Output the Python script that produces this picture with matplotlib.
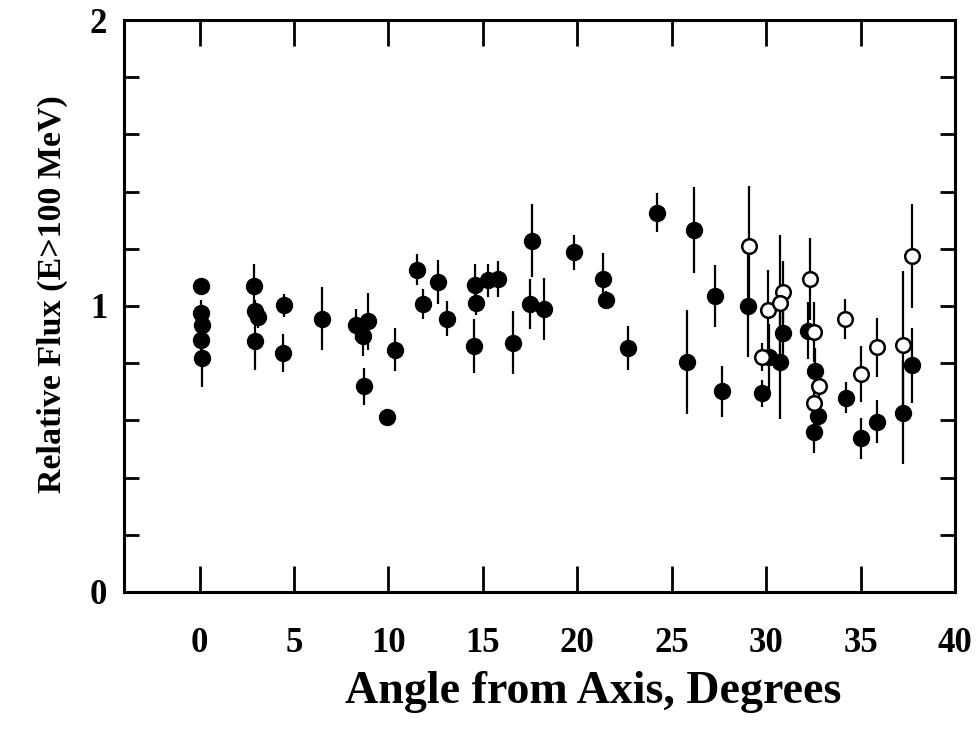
import numpy as np
import matplotlib
matplotlib.use("Agg")
import matplotlib.pyplot as plt

# filled circles: angle, relative flux, error
filled_x = [0.05, 0.09, 0.14, 0.05, 0.14, 2.89, 2.94, 3.11, 2.96, 4.47, 4.41, 6.46,
            8.26, 8.92, 8.67, 8.68, 9.90, 10.37, 11.53, 11.82, 12.62, 13.08, 14.56,
            14.61, 14.54, 15.28, 15.81, 17.59, 17.51, 18.22, 16.61, 19.84, 21.34,
            21.52, 22.67, 24.21, 26.18, 27.30, 25.80, 27.66, 29.06, 30.15, 29.78,
            30.87, 30.74, 32.24, 32.57, 32.77, 32.51, 34.21, 35.02, 35.87, 37.24, 37.71]
filled_y = [1.069, 0.977, 0.933, 0.881, 0.817, 1.070, 0.982, 0.963, 0.877, 1.003, 0.835, 0.955,
            0.935, 0.946, 0.896, 0.719, 0.612, 0.847, 1.127, 1.007, 1.085, 0.956, 1.075,
            1.009, 0.861, 1.090, 1.095, 1.228, 1.006, 0.990, 0.872, 1.188, 1.096,
            1.021, 0.854, 1.326, 1.266, 1.035, 0.803, 0.701, 1.001, 0.821, 0.694,
            0.905, 0.804, 0.913, 0.773, 0.617, 0.559, 0.680, 0.538, 0.596, 0.626, 0.792]
filled_err = [0.0, 0.043, 0.04, 0.04, 0.10, 0.076, 0.04, 0.04, 0.10, 0.04, 0.067, 0.11,
              0.054, 0.10, 0.07, 0.065, 0.0, 0.075, 0.055, 0.054, 0.077, 0.062, 0.073,
              0.04, 0.095, 0.058, 0.064, 0.127, 0.088, 0.108, 0.109, 0.061, 0.09,
              0.03, 0.077, 0.068, 0.15, 0.109, 0.182, 0.09, 0.18, 0.115, 0.046,
              0.10, 0.20, 0.10, 0.08, 0.05, 0.073, 0.053, 0.072, 0.075, 0.18, 0.13]

# open circles
open_x = [29.09, 30.09, 29.80, 30.88, 30.75, 32.31, 32.55, 32.79, 32.52, 34.19,
          35.02, 35.88, 37.23, 37.70]
open_y = [1.210, 0.986, 0.821, 1.049, 1.009, 1.095, 0.909, 0.719, 0.660, 0.954,
          0.763, 0.855, 0.864, 1.174]
open_err = [0.208, 0.14, 0.05, 0.11, 0.24, 0.144, 0.106, 0.05, 0.05, 0.069,
            0.097, 0.102, 0.26, 0.182]

font = "Liberation Serif"

fig = plt.figure(figsize=(9.79, 7.36), dpi=100)
ax = fig.add_axes([0.1267, 0.1957, 0.8488, 0.7771])

ax.errorbar(filled_x, filled_y, yerr=filled_err, fmt="none", ecolor="black",
            elinewidth=1.6, capsize=0, zorder=2)
ax.errorbar(open_x, open_y, yerr=open_err, fmt="none", ecolor="black",
            elinewidth=1.6, capsize=0, zorder=2)
ax.plot(filled_x, filled_y, "o", color="black", markersize=11.5, zorder=3)
ax.plot(open_x, open_y, "o", markerfacecolor="white", markeredgecolor="black",
        markeredgewidth=1.8, markersize=10.5, zorder=4)

ax.set_xlim(-4, 40)
ax.set_ylim(0, 2)
ax.set_xticks(np.arange(0, 41, 5))
ax.set_yticks(np.arange(0, 2.01, 0.2))
ax.set_yticklabels(["0", "", "", "", "", "1", "", "", "", "", "2"])

for s in ax.spines.values():
    s.set_linewidth(2.2)

ax.tick_params(axis="x", direction="in", length=19, width=2.0, top=True,
               pad=25, labelsize=25)
ax.tick_params(axis="y", direction="in", length=11, width=2.0, right=True,
               pad=12, labelsize=25)
for lab in ax.get_xticklabels() + ax.get_yticklabels():
    lab.set_fontfamily(font)
    lab.set_fontweight("bold")

ax.set_xlabel("Angle from Axis, Degrees", fontsize=33, fontweight="bold",
              fontfamily=font, labelpad=8)
ax.xaxis.label.set_x(0.564)
ax.set_ylabel("Relative Flux (E>100 MeV)", fontsize=24.5, fontweight="bold",
              fontfamily=font, labelpad=16)
ax.yaxis.label.set_y(0.52)

fig.savefig("out.png", dpi=100)
